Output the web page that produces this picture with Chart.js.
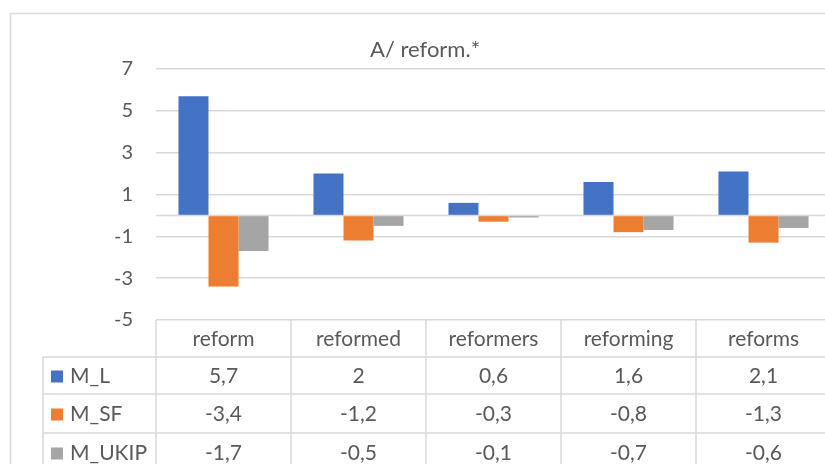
<!DOCTYPE html>
<html>
<head>
<meta charset="utf-8">
<script src="https://cdn.jsdelivr.net/npm/chart.js@4"></script>
<style>
  html, body { margin: 0; padding: 0; background: #fff; overflow: hidden; }
  #wrap { position: relative; width: 880px; height: 464px; }
</style>
</head>
<body>
<div id="wrap"><canvas id="c"></canvas></div>
<script>
const categories = ["reform", "reformed", "reformers", "reforming", "reforms"];
const seriesNames = ["M_L", "M_SF", "M_UKIP"];
const mL = [5.7, 2, 0.6, 1.6, 2.1];
const mSF = [-3.4, -1.2, -0.3, -0.8, -1.3];
const mUKIP = [-1.7, -0.5, -0.1, -0.7, -0.6];
const yTicks = [-5, -3, -1, 1, 3, 5, 7];
const chartTitle = "A/ reform.*";

const colors = ["#4472C4", "#ED7D31", "#A5A5A5"];
const textColor = "#595959";
const lineColor = "#d9d9d9";
const fontFamily = "Lato, 'Noto Sans', sans-serif";

// frame, title, zero line and the data table under the plot
const tablePlugin = {
  id: "excelTable",
  beforeDraw(chart) {
    const ctx = chart.ctx;
    ctx.save();
    ctx.strokeStyle = lineColor;
    ctx.lineWidth = 1.5;
    ctx.strokeRect(10.5, 13.5, chart.width, chart.height);
    ctx.restore();
  },
  afterDatasetsDraw(chart) {
    const ctx = chart.ctx;
    const y = chart.scales.y;
    const area = chart.chartArea;
    const y0 = y.getPixelForValue(0);
    ctx.save();
    ctx.strokeStyle = lineColor;
    ctx.lineWidth = 1.5;
    ctx.beginPath();
    ctx.moveTo(area.left, y0);
    ctx.lineTo(area.right, y0);
    ctx.stroke();
    ctx.restore();
  },
  afterDraw(chart) {
    const ctx = chart.ctx;
    const x = chart.scales.x;
    const area = chart.chartArea;
    const top = area.bottom;
    const rowH = [37, 37, 39, 39];
    const rows = [top];
    rowH.forEach(h => rows.push(rows[rows.length - 1] + h));
    const legendLeft = 43;
    const colW = (area.right - area.left) / categories.length;

    ctx.save();
    ctx.strokeStyle = lineColor;
    ctx.lineWidth = 1.5;
    ctx.beginPath();
    for (let i = 1; i < rows.length; i++) {
      ctx.moveTo(legendLeft, rows[i]);
      ctx.lineTo(area.right, rows[i]);
    }
    ctx.moveTo(legendLeft, rows[1]);
    ctx.lineTo(legendLeft, rows[rows.length - 1]);
    for (let i = 0; i <= categories.length; i++) {
      const xx = area.left + i * colW;
      ctx.moveTo(xx, top);
      ctx.lineTo(xx, rows[rows.length - 1]);
    }
    ctx.stroke();

    ctx.fillStyle = textColor;
    ctx.font = "21px " + fontFamily;
    ctx.textAlign = "center";
    ctx.textBaseline = "middle";
    categories.forEach((c, i) => {
      ctx.fillText(c, x.getPixelForValue(i), (rows[0] + rows[1]) / 2 + 1);
    });

    const data = [mL, mSF, mUKIP];
    data.forEach((vals, r) => {
      const cy = (rows[r + 1] + rows[r + 2]) / 2 + 1;
      ctx.fillStyle = colors[r];
      ctx.fillRect(legendLeft + 8, cy - 6, 12, 12);
      ctx.fillStyle = textColor;
      ctx.textAlign = "left";
      ctx.fillText(seriesNames[r], legendLeft + 27, cy);
      ctx.textAlign = "center";
      vals.forEach((v, i) => {
        ctx.fillText(String(v).replace(".", ","), x.getPixelForValue(i), cy);
      });
    });

    ctx.font = "22px " + fontFamily;
    ctx.textAlign = "center";
    ctx.fillText(chartTitle, 425, 50);
    ctx.restore();
  }
};

new Chart(document.getElementById("c"), {
  type: "bar",
  data: {
    labels: categories,
    datasets: [
      { label: seriesNames[0], data: mL, backgroundColor: colors[0] },
      { label: seriesNames[1], data: mSF, backgroundColor: colors[1] },
      { label: seriesNames[2], data: mUKIP, backgroundColor: colors[2] }
    ]
  },
  options: {
    responsive: true,
    maintainAspectRatio: false,
    animation: false,
    layout: { padding: { left: 0, top: 69, right: 49, bottom: 144 } },
    datasets: { bar: { categoryPercentage: 0.667, barPercentage: 1.0 } },
    scales: {
      x: {
        display: false
      },
      y: {
        min: -5,
        max: 7,
        afterFit(scale) { scale.width = 156; },
        afterBuildTicks(scale) { scale.ticks = yTicks.map(v => ({ value: v })); },
        ticks: { color: textColor, font: { family: fontFamily, size: 20 }, padding: 23 },
        grid: { color: lineColor, lineWidth: 1.5, drawTicks: false },
        border: { display: false }
      }
    },
    plugins: {
      legend: { display: false },
      title: { display: false },
      tooltip: { enabled: false }
    }
  },
  plugins: [tablePlugin]
});
</script>
</body>
</html>
